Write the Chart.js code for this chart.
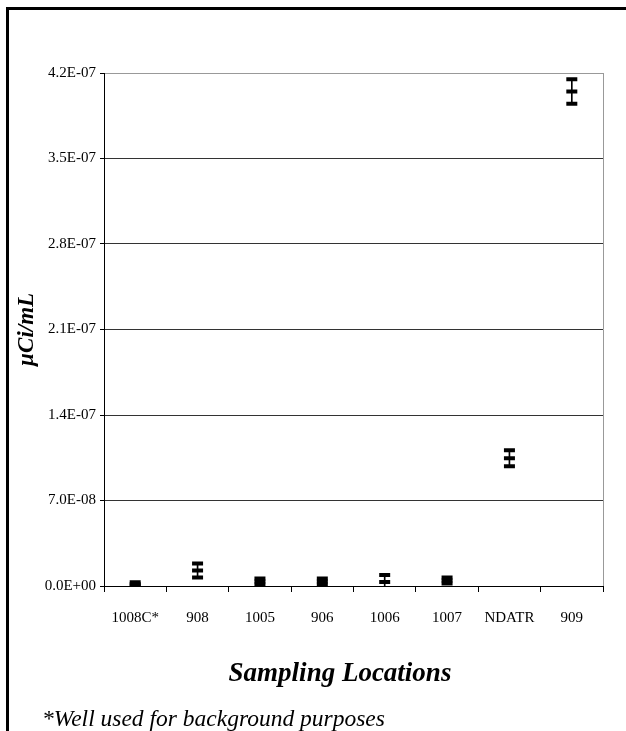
<!DOCTYPE html>
<html>
<head>
<meta charset="utf-8">
<script src="https://cdn.jsdelivr.net/npm/chart.js@4"></script>
<style>
html, body { margin: 0; padding: 0; background: #fff; }
#wrap { position: relative; width: 626px; height: 731px; overflow: hidden; }
#frame { position: absolute; left: 6px; top: 7px; width: 700px; height: 800px;
         border-top: 3px solid #000; border-left: 3px solid #000; }
#note { position: absolute; left: 42px; top: 707px; white-space: nowrap;
        font: italic 23.5px "Liberation Serif", serif; line-height: 1; }
canvas { position: absolute; left: 0; top: 0; }
</style>
</head>
<body>
<div id="wrap">
  <div id="frame"></div>
  <canvas id="chart" width="626" height="731"></canvas>
  <div id="note">*Well used for background purposes</div>
</div>
<script>
var locations = ["1008C*", "908", "1005", "906", "1006", "1007", "NDATR", "909"];
var means = [1.5e-9, 1.27e-8, 3.7e-9, 3.7e-9, 3.3e-9, 4.5e-9, 1.046e-7, 4.048e-7];
var errors = [1.6e-9, 5.7e-9, 2.5e-9, 2.5e-9, 5.7e-9, 2.5e-9, 6.6e-9, 1.0e-8];
var yTicks = [0, 7e-8, 1.4e-7, 2.1e-7, 2.8e-7, 3.5e-7, 4.2e-7];

var serif = "'Liberation Serif', 'Times New Roman', serif";

function sci(v) {
    var s = v.toExponential(1).split('e');
    var e = parseInt(s[1], 10);
    return s[0] + 'E' + (e < 0 ? '-' : '+') + (Math.abs(e) < 10 ? '0' : '') + Math.abs(e);
}

function dash(label, data, order) {
    return {
        type: 'line',
        label: label,
        data: data,
        showLine: false,
        pointStyle: 'line',
        pointRadius: 5.5,
        pointHoverRadius: 5.5,
        pointBorderWidth: 4,
        pointHoverBorderWidth: 4,
        pointBorderColor: '#000',
        borderColor: '#000',
        order: order
    };
}

// gray border on the right side of the plot
var rightEdge = {
    id: 'rightEdge',
    beforeDatasetsDraw: function (chart) {
        var a = chart.chartArea, ctx = chart.ctx;
        ctx.save();
        ctx.strokeStyle = '#999';
        ctx.lineWidth = 1;
        ctx.beginPath();
        ctx.moveTo(Math.round(a.right) + 0.5, a.top);
        ctx.lineTo(Math.round(a.right) + 0.5, a.bottom);
        ctx.stroke();
        ctx.restore();
    }
};

new Chart(document.getElementById('chart'), {
    type: 'bar',
    data: {
        labels: locations,
        datasets: [
            dash('mean', means, 1),
            dash('high', means.map(function (m, i) { return m + errors[i]; }), 2),
            dash('low', means.map(function (m, i) { return m - errors[i]; }), 2),
            {
                type: 'bar',
                label: 'range',
                data: means.map(function (m, i) { return [m - errors[i], m + errors[i]]; }),
                backgroundColor: '#000',
                barThickness: 1,
                order: 3
            }
        ]
    },
    options: {
        responsive: false,
        animation: false,
        events: [],
        layout: { padding: { top: 73, right: 23, bottom: 31, left: 0 } },
        plugins: {
            legend: { display: false },
            tooltip: { enabled: false }
        },
        scales: {
            x: {
                grid: {
                    drawOnChartArea: false,
                    color: '#000',
                    tickLength: 6
                },
                border: { color: '#000', width: 1 },
                ticks: {
                    color: '#000',
                    padding: 17,
                    maxRotation: 0,
                    font: { family: serif, size: 15 }
                },
                title: {
                    display: true,
                    // trailing spaces nudge the centred title a little to the left
                    text: 'Sampling Locations\u00a0\u00a0\u00a0\u00a0',
                    color: '#000',
                    padding: { top: 30, bottom: 10 },
                    font: { family: serif, size: 27, style: 'italic', weight: 'bold' }
                },
                afterFit: function (s) { s.height = 114; }
            },
            y: {
                min: 0,
                max: 4.2e-7,
                afterBuildTicks: function (s) {
                    s.ticks = yTicks.map(function (v) { return { value: v }; });
                },
                grid: {
                    color: function (c) { return c.tick && c.tick.value >= 4.2e-7 ? '#999' : '#333'; },
                    tickColor: '#000',
                    tickLength: 4
                },
                border: { color: '#000', width: 1 },
                ticks: {
                    color: '#000',
                    padding: 4,
                    font: { family: serif, size: 15 },
                    callback: function (v) { return sci(v); }
                },
                title: {
                    display: true,
                    text: 'µCi/mL',
                    color: '#000',
                    padding: { top: 13, bottom: 0 },
                    font: { family: serif, size: 23, style: 'italic', weight: 'bold' }
                },
                afterFit: function (s) { s.width = 104; }
            }
        }
    },
    plugins: [rightEdge]
});
</script>
</body>
</html>
